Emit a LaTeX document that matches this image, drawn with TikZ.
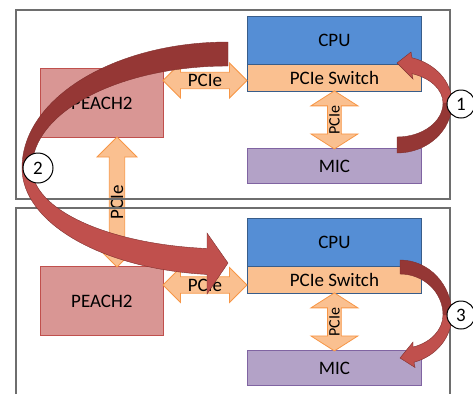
\documentclass[tikz,border=0pt]{standalone}
\usepackage{fontspec}
\setmainfont{Carlito}
\usetikzlibrary{shapes.arrows,calc}

\definecolor{cpublue}{HTML}{558ED5}
\definecolor{cpuedge}{HTML}{385D8A}
\definecolor{pcieorange}{HTML}{FAC090}
\definecolor{pcieedge}{HTML}{F79646}
\definecolor{micpurple}{HTML}{B3A2C7}
\definecolor{micedge}{HTML}{8064A2}
\definecolor{peachred}{HTML}{D99694}
\definecolor{peachedge}{HTML}{C0504D}
\definecolor{flowdark}{HTML}{953735}
\definecolor{flowlight}{HTML}{C0504D}
\definecolor{framegray}{HTML}{6E6E6E}

\begin{document}
\begin{tikzpicture}[x=1pt,y=-1pt,
  box/.style={draw,line width=0.8pt,inner sep=0pt,anchor=north west,font=\fontsize{19}{19}\selectfont},
  link/.style={double arrow,draw=pcieedge,fill=pcieorange,line width=0.8pt,inner sep=0pt,
    double arrow tip angle=90,font=\fontsize{19}{19}\selectfont},
  flow/.style={draw=flowdark!85!black,line width=0.4pt},
  tag/.style={circle,draw,fill=white,line width=1pt,inner sep=0pt,minimum size=28,font=\fontsize{19}{19}\selectfont}]
\useasboundingbox (0,0) rectangle (473,394);

\foreach \n/\dy/\dz/\dh in {1/0/0/0,2/202/198/204.5}{
\node[box,fill=cpublue,draw=cpuedge,minimum width=174,minimum height=48] (cpu\n) at (247,16+\dy) {CPU};
\node[box,fill=pcieorange,draw=cpuedge,minimum width=174,minimum height=27] (sw\n) at (247,64+\dy) {PCIe Switch};
\node[box,fill=micpurple,draw=micedge,minimum width=174,minimum height=35] (mic\n) at (247,148+\dy) {MIC};
\node[box,fill=peachred,draw=peachedge,minimum width=123,minimum height=69] (peach\n) at (40,68+\dz) {PEACH2};
\node[link,minimum height=84,minimum width=35,double arrow head extend=7.5] (bus\n) at (205,80.5+\dh) {PCIe};
\node[link,rotate=90,minimum height=58,minimum width=47,double arrow head extend=13.5,
  double arrow tip angle=115,font=\fontsize{16}{16}\selectfont] (up\n) at ($(sw\n.south)!.5!(mic\n.north)$) {PCIe};
}
\node[link,rotate=90,minimum height=130,minimum width=40,double arrow head extend=10.5] (cable) at (117,202) {PCIe};

\draw[framegray,line width=1.2pt] (16,10) rectangle (450,199);
\draw[framegray,line width=1.2pt] (16,394) -- (16,208) -- (450,208) -- (450,394);

% 1: MIC up to the switch
\fill[flow,fill=flowdark] (452,103) arc[start angle=0,end angle=90,x radius=55,y radius=50]
  -- (397,137) arc[start angle=90,end angle=0,x radius=46,y radius=34] -- cycle;
\fill[flow,fill=flowlight] (412,57.8) arc[start angle=285.8,end angle=360,x radius=55,y radius=47]
  -- (443,103) arc[start angle=0,end angle=-71,x radius=46,y radius=31]
  -- (413,79) -- (397,63) -- (411,52) -- cycle;

% 2: across to the other node
\fill[flow,fill=flowdark] (228,42) arc[start angle=270,end angle=180,x radius=206,y radius=126]
  -- ++(10,0) arc[start angle=180,end angle=270,x radius=196,y radius=102] -- cycle;
\fill[flow,fill=flowlight] (22,168) arc[start angle=180,end angle=95.85,x radius=206,y radius=107]
  -- (207,294) -- (228,263) -- (207,233) -- (207,248.5)
  arc[start angle=96.15,end angle=180,x radius=196,y radius=81] -- cycle;

% 3: switch down to the MIC
\fill[flow,fill=flowdark] (400,260) arc[start angle=270,end angle=360,x radius=52,y radius=55]
  -- (443,315) arc[start angle=0,end angle=-90,x radius=43,y radius=41] -- cycle;
\fill[flow,fill=flowlight] (452,315) arc[start angle=0,end angle=74.4,x radius=52,y radius=49]
  -- (415,367.5) -- (400,358) -- (413,342) -- (413,347)
  arc[start angle=72.4,end angle=0,x radius=43,y radius=33.6] -- cycle;

\node[tag] (t1) at (461,104) {1};
\node[tag,minimum size=30] (t2) at (38,168) {2};
\node[tag] (t3) at (461,315) {3};
\end{tikzpicture}
\end{document}
